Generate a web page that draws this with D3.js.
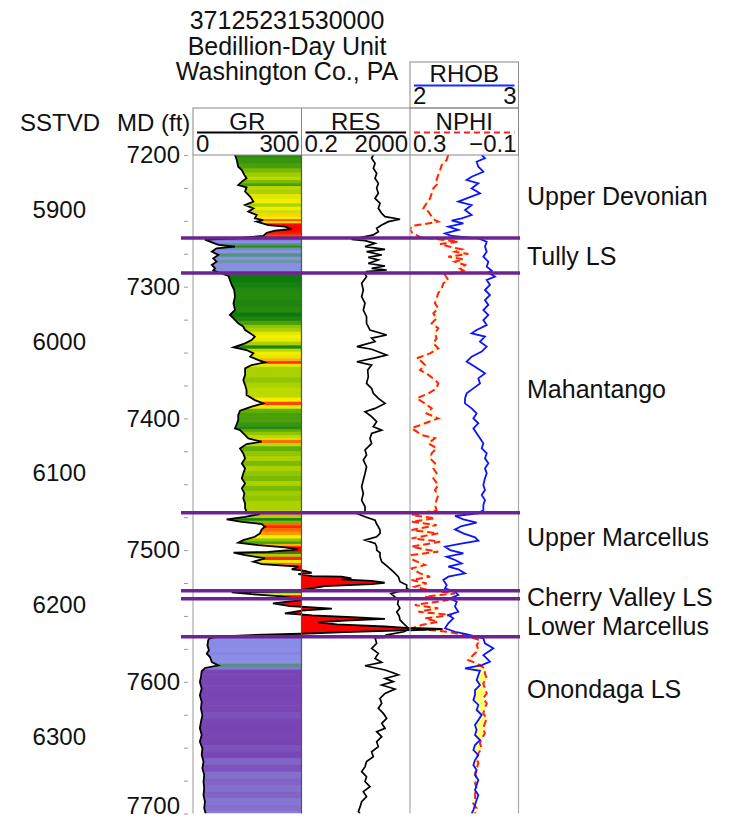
<!DOCTYPE html>
<html>
<head>
<meta charset="utf-8">
<script src="https://cdn.jsdelivr.net/npm/d3@7"></script>
<style>
  body { margin: 0; background: #fff; }
  text { font-family: "Liberation Sans", Arial, sans-serif; fill: #111; }
</style>
</head>
<body>
<svg id="chart" width="731" height="820"></svg>
<script>
// well header
const titleLines = ['37125231530000', 'Bedillion-Day Unit', 'Washington Co., PA'];

// formation tops (MD ft)
const formationNames = ['Upper Devonian', 'Tully LS', 'Mahantango', 'Upper Marcellus', 'Cherry Valley LS', 'Lower Marcellus', 'Onondaga LS'];
const formationTops = [7263.0, 7289.6, 7471.6, 7530.8, 7536.9, 7565.7];
const labelDepths = [7231, 7277, 7378, 7490, 7536, 7558, 7606];

const mdTicks = d3.range(7200, 7701, 25);
const sstvdTicks = [5900, 6000, 6100, 6200, 6300];
const kbOffset = 1341.5;

// [MD, GR api]
const grLog = [[7200,116],[7203.8,121],[7208.9,125],[7211.4,135],[7215.2,142],[7217.7,148],[7220.2,135],[7222.8,125],[7224.6,148],[7227.8,144],[7231.6,158],[7235.4,167],[7238,144],[7240.5,167],[7243,153],[7245.6,176],[7248.1,171],[7249.4,194],[7250.6,176],[7253.2,208],[7254.4,254],[7256.2,273],[7257.5,227],[7259,204],[7261.5,194],[7263.2,120],[7264.2,33],[7265.8,47],[7268.3,70],[7269.6,116],[7270.9,65],[7273.4,52],[7275.9,70],[7278.5,56],[7281,65],[7283.5,52],[7286.1,61],[7287.8,56],[7289.9,79],[7291.9,98],[7294.9,102],[7298.7,107],[7302.5,114],[7307.6,116],[7312.6,112],[7317.7,116],[7321.5,102],[7324,112],[7327.8,125],[7330.3,139],[7332.9,144],[7335.4,158],[7337.9,171],[7340.5,162],[7343,144],[7346,112],[7348.1,148],[7350.6,167],[7353.1,158],[7355.7,181],[7357.4,199],[7359.5,162],[7362,144],[7367.1,144],[7370.9,139],[7374.7,144],[7378.5,148],[7382.3,148],[7386.1,171],[7388.6,194],[7391.1,162],[7394.2,130],[7397.5,125],[7401.3,125],[7404.3,121],[7407.6,116],[7408.9,130],[7411.4,139],[7413.9,148],[7415.2,153],[7417.7,190],[7419.5,148],[7422.8,130],[7426.6,139],[7430.4,144],[7434.2,135],[7438,144],[7441.8,139],[7445.6,135],[7449.4,144],[7453.1,135],[7457,142],[7460.7,139],[7464.5,144],[7468.3,144],[7470.9,148],[7472.6,185],[7474.7,144],[7476.7,93],[7478.5,135],[7480.2,190],[7482.3,199],[7484.3,190],[7487.3,185],[7489.9,171],[7492.4,139],[7494.4,125],[7496.2,181],[7498,254],[7499.5,291],[7501.3,208],[7502,112],[7503.8,144],[7506.3,199],[7508.8,167],[7510.6,190],[7512.6,291],[7514.7,273],[7515.7,310],[7517.2,328],[7518.2,291],[7519.7,330],[7520.2,411],[7521.5,438],[7522.3,411],[7523.3,494],[7524.8,530],[7525.8,494],[7527.3,365],[7529.1,328],[7530.3,300],[7531.2,250],[7532,107],[7533.5,162],[7535,236],[7536.5,280],[7538,300],[7540.5,221],[7542.5,268],[7544.5,384],[7546,300],[7548,254],[7549.5,330],[7551,440],[7552.2,531],[7553.5,420],[7554.8,346],[7556.4,398],[7558,530],[7559.2,600],[7560,690],[7561,580],[7562.3,420],[7563.5,300],[7564.5,158],[7565.8,66],[7567,45],[7568.5,42],[7572.3,40],[7576.1,44],[7578.6,38],[7581.2,47],[7585,52],[7587.5,70],[7589.5,33],[7592,24],[7596.3,22],[7600.1,19],[7605.1,24],[7610.2,19],[7615.2,24],[7620.3,22],[7625.4,26],[7630.3,22],[7635.3,19],[7640.4,24],[7645.5,19],[7650.5,26],[7655.6,24],[7660.6,29],[7665.7,26],[7670.8,31],[7675.8,29],[7680.9,31],[7685.9,29],[7691,33],[7696.1,31],[7700,35]];

// [MD, resistivity ohm-m]
const resLog = [[7200,89],[7202.5,77],[7206.3,103],[7210.1,89],[7213.9,118],[7217.7,103],[7221.5,136],[7225.3,118],[7229.1,136],[7232.9,103],[7236.7,157],[7240.5,136],[7244.3,181],[7246.8,240],[7248.8,856],[7250.6,318],[7253.2,181],[7255.7,118],[7258.2,136],[7260.7,89],[7262.5,33],[7264,14],[7265,44],[7267.1,103],[7269.6,44],[7271.6,240],[7273.4,50],[7275.9,181],[7277.7,58],[7279.7,136],[7282.3,58],[7284.3,240],[7286.1,77],[7287.3,276],[7288.6,50],[7290.4,44],[7292.4,50],[7297.4,33],[7302.5,38],[7307.6,33],[7312.6,44],[7317.7,38],[7322.8,50],[7327.8,50],[7332.9,67],[7336.7,276],[7339,77],[7341.7,103],[7345.5,22],[7347.5,77],[7351.9,276],[7354,103],[7357,22],[7359.5,77],[7363.3,55],[7368.4,58],[7373.4,50],[7377.2,77],[7381,89],[7384.8,136],[7388.6,240],[7392.4,103],[7394.9,44],[7398.7,77],[7402.5,118],[7406.3,89],[7408.9,181],[7411.4,77],[7415.2,67],[7419,77],[7424,44],[7427.8,50],[7431.6,38],[7436.7,50],[7441.8,44],[7446.8,38],[7451.9,33],[7457,38],[7462,33],[7467.1,44],[7470.9,44],[7472.6,25],[7474.7,44],[7477.2,103],[7480.2,118],[7482.3,136],[7484.8,157],[7487.3,157],[7489.9,118],[7492.4,44],[7494.9,103],[7497.4,118],[7500,118],[7502,157],[7505,157],[7508.8,181],[7512.6,300],[7516.4,486],[7520.2,743],[7524,856],[7526.5,1507],[7529.1,1500],[7530.3,2000],[7531,900],[7533,400],[7536,600],[7538,750],[7541,700],[7544,850],[7547,650],[7550,800],[7553,850],[7555.6,1136],[7558,1507],[7560,1800],[7562,1200],[7564.5,250],[7565.5,1500],[7566.5,103],[7570.8,118],[7574.6,77],[7578.4,136],[7582.2,103],[7585.2,181],[7587.8,44],[7591,240],[7592.8,422],[7594.8,743],[7597.4,240],[7599.9,486],[7602.4,181],[7605.5,560],[7608.8,240],[7612.6,157],[7616.4,181],[7620.1,136],[7624,208],[7627.7,276],[7631.5,181],[7635.3,240],[7637.9,118],[7641.7,181],[7645.5,118],[7649.3,136],[7653.1,77],[7656.8,89],[7660.6,50],[7664.4,44],[7668.2,33],[7672,50],[7675.8,44],[7679.6,67],[7683.4,38],[7687.2,50],[7691,33],[7694.8,29],[7698.6,25],[7700,29]];

// [MD, neutron porosity v/v]
const nphiLog = [[7200,.159],[7203.8,.165],[7207.6,.183],[7211.4,.189],[7215.2,.196],[7219,.202],[7221.5,.196],[7225.3,.214],[7229.1,.220],[7232.9,.226],[7236.7,.239],[7240.5,.251],[7243,.232],[7246.8,.220],[7249.4,.208],[7250.6,.196],[7252.4,.245],[7253.9,.294],[7256.9,.300],[7259.5,.290],[7262.5,.260],[7264,.196],[7265.8,.122],[7267.6,.189],[7269.6,.153],[7271.6,.110],[7273.4,.134],[7275.2,.085],[7277.2,.159],[7279.2,.103],[7281,.134],[7283.5,.097],[7286.1,.116],[7287.8,.103],[7291.1,.171],[7294.9,.159],[7297.4,.177],[7301.2,.183],[7305,.196],[7308.8,.202],[7312.6,.208],[7316.4,.196],[7320.2,.214],[7324,.202],[7327.8,.220],[7331.6,.196],[7335.4,.208],[7339.2,.202],[7343,.214],[7346.8,.196],[7350.6,.226],[7354.4,.275],[7356.9,.257],[7359.5,.245],[7363.3,.263],[7367,.232],[7370.8,.208],[7373.4,.196],[7377.2,.202],[7381,.232],[7384.8,.275],[7388.6,.245],[7392.4,.220],[7396.2,.239],[7400,.196],[7403.7,.245],[7407.5,.294],[7410.1,.275],[7412.6,.257],[7415.1,.208],[7418.9,.232],[7422.7,.202],[7426.5,.220],[7430.3,.226],[7434.1,.208],[7437.9,.214],[7441.7,.202],[7445.5,.214],[7450.6,.196],[7454.4,.208],[7458.2,.196],[7462,.202],[7465.8,.208],[7469.6,.202],[7473.4,.294],[7475.9,.208],[7478.4,.294],[7481,.202],[7484.8,.294],[7487.3,.196],[7491.1,.294],[7493.6,.189],[7497.4,.294],[7500,.232],[7501.2,.196],[7503.7,.294],[7507.5,.288],[7511.3,.245],[7513.9,.294],[7517.7,.263],[7520.2,.226],[7522.7,.294],[7525.3,.239],[7527.8,.282],[7530.3,.232],[7532.9,.134],[7535.4,.245],[7537.9,.159],[7541.7,.282],[7544.2,.196],[7546.8,.269],[7549.3,.146],[7551.8,.245],[7554.4,.196],[7556.9,.257],[7559.4,.294],[7562,.159],[7564.5,.103],[7568.3,.042],[7572.1,.054],[7575.9,.048],[7579.7,.067],[7583.5,.085],[7586,.054],[7589.8,.024],[7593.6,.024],[7597.4,.017],[7601.2,.030],[7605,.024],[7608.8,.017],[7612.6,.030],[7616.4,.017],[7620.2,.024],[7624,.030],[7627.8,.017],[7631.6,.024],[7635.4,.030],[7639.2,.024],[7643,.036],[7646.7,.042],[7650.5,.036],[7654.3,.048],[7658.1,.054],[7661.9,.048],[7665.7,.054],[7669.5,.060],[7673.3,.054],[7677.1,.060],[7680.9,.054],[7684.7,.060],[7688.5,.060],[7692.3,.067],[7696.1,.054],[7700,.060]];

// [MD, bulk density g/cc]
const rhobLog = [[7200,2.661],[7202.5,2.691],[7205.1,2.614],[7208.9,2.630],[7212.7,2.676],[7216.5,2.568],[7219,2.522],[7221.5,2.630],[7225.3,2.568],[7229.1,2.645],[7232.9,2.522],[7235.4,2.445],[7238,2.568],[7241.8,2.507],[7245.6,2.568],[7248.1,2.476],[7249.9,2.384],[7251.9,2.492],[7254.4,2.353],[7256.9,2.445],[7259.5,2.323],[7261.5,2.384],[7263.3,2.630],[7265.8,2.707],[7269.6,2.691],[7273.4,2.707],[7277.2,2.676],[7281,2.722],[7284.8,2.707],[7287.8,2.753],[7289.3,2.722],[7292.4,2.783],[7294.9,2.707],[7298.7,2.737],[7302.5,2.691],[7306.3,2.737],[7310.1,2.691],[7313.9,2.722],[7317.7,2.676],[7321.5,2.722],[7325.3,2.676],[7329.1,2.707],[7332.9,2.614],[7335.4,2.568],[7337.9,2.691],[7341.7,2.645],[7345.5,2.707],[7349.3,2.661],[7353.1,2.568],[7356.9,2.522],[7360.7,2.599],[7363.3,2.645],[7365.8,2.691],[7369.6,2.630],[7373.4,2.645],[7377.2,2.584],[7381,2.522],[7384.8,2.507],[7388.6,2.507],[7392.4,2.568],[7396.2,2.614],[7400,2.584],[7403.7,2.630],[7407.5,2.584],[7411.3,2.614],[7415.1,2.645],[7418.9,2.676],[7422.7,2.661],[7426.5,2.707],[7430.3,2.691],[7434.1,2.722],[7437.9,2.691],[7441.7,2.707],[7445.5,2.691],[7450.6,2.676],[7454.4,2.691],[7458.2,2.661],[7462,2.691],[7465.8,2.676],[7469.6,2.676],[7472.1,2.630],[7474.1,2.415],[7476.7,2.492],[7479.2,2.614],[7481.7,2.476],[7484.3,2.415],[7487.3,2.492],[7490.3,2.599],[7492.9,2.630],[7495.4,2.445],[7497.4,2.323],[7500,2.369],[7502.5,2.492],[7505,2.338],[7507.5,2.415],[7510.1,2.476],[7512.6,2.353],[7514.6,2.445],[7517.7,2.507],[7520.2,2.353],[7522.7,2.307],[7526.5,2.338],[7529.1,2.323],[7531.6,2.415],[7534.1,2.445],[7536.7,2.369],[7539.2,2.430],[7543,2.415],[7546.8,2.445],[7549.3,2.353],[7551.8,2.399],[7555.6,2.353],[7559.4,2.323],[7562,2.415],[7563.7,2.507],[7567,2.676],[7570.8,2.691],[7574.6,2.768],[7577.1,2.722],[7579.7,2.676],[7582.2,2.707],[7584.7,2.737],[7587.3,2.661],[7589.8,2.507],[7591.6,2.645],[7594.9,2.630],[7598.7,2.614],[7602.5,2.645],[7606.3,2.599],[7610.1,2.599],[7613.9,2.584],[7617.6,2.630],[7621.4,2.614],[7625.2,2.661],[7629,2.630],[7632.8,2.599],[7636.6,2.614],[7640.4,2.599],[7644.2,2.645],[7648,2.599],[7651.8,2.584],[7655.6,2.630],[7659.4,2.599],[7663.2,2.584],[7667,2.614],[7670.8,2.599],[7674.6,2.630],[7678.4,2.614],[7682.2,2.599],[7686,2.630],[7689.8,2.614],[7693.6,2.599],[7697.4,2.584],[7700,2.568]];

// GR colour stops
const grStops = [0, 24, 31, 40, 60, 67, 80, 100, 118, 132, 145, 158, 172, 185, 196, 210];
const grColors = ['#7640b0','#7a46b6','#8470cc','#8a8ae8','#8a92e0','#5a9890','#2e8a30','#0a780a','#2a8c10','#6ab400','#b0d400','#e4e800','#f8f000','#ff9800','#ff3000','#ff0000'];

const svg = d3.select('#chart');
const trackTop = 155, trackBottom = 813.5;
const edges = [193, 301.5, 410, 518.5];

const y = d3.scaleLinear().domain([7200, 7700]).range([trackTop, trackBottom]);
const ySS = d3.scaleLinear().domain([7200 - kbOffset, 7700 - kbOffset]).range([trackTop, trackBottom]);
const xGR = d3.scaleLinear().domain([0, 300]).range([edges[0], edges[1]]);
const xGRwrap = d3.scaleLinear().domain([300, 600]).range([edges[1], edges[2]]);
const xGRwrap2 = d3.scaleLinear().domain([600, 900]).range([edges[2], edges[3]]);
const xRES = d3.scaleLog().domain([0.2, 2000]).range([edges[1], edges[2]]);
const xNPHI = d3.scaleLinear().domain([0.3, -0.1]).range([edges[2], edges[3]]);
const xRHOB = d3.scaleLinear().domain([2, 3]).range([edges[2], edges[3]]);
const grColor = d3.scaleLinear().domain(grStops).range(grColors).clamp(true);

const defs = svg.append('defs');
['gr', 'res', 'np'].forEach((id, i) => {
    defs.append('clipPath').attr('id', 'clip-' + id)
        .append('rect')
        .attr('x', edges[i]).attr('y', trackTop)
        .attr('width', edges[i + 1] - edges[i]).attr('height', trackBottom - trackTop);
});

defs.append('clipPath').attr('id', 'clip-grfill')
    .append('path')
    .attr('d', d3.area().y(d => y(d[0])).x0(d => xGR(d[1])).x1(edges[1])(grLog));

defs.append('clipPath').attr('id', 'clip-nphi')
    .append('path')
    .attr('d', d3.area().y(d => y(d[0])).x0(edges[2] - 20).x1(d => xNPHI(d[1]))(nphiLog));

// ---- GR track ----
const grTrack = svg.append('g').attr('clip-path', 'url(#clip-gr)');
const bands = grLog.map((d, i) => {
    const d0 = i === 0 ? d[0] : (grLog[i - 1][0] + d[0]) / 2;
    const d1 = i === grLog.length - 1 ? d[0] : (d[0] + grLog[i + 1][0]) / 2;
    return {d0, d1, gr: d[1]};
});
grTrack.append('g').attr('clip-path', 'url(#clip-grfill)')
    .selectAll('rect')
    .data(bands)
    .enter()
    .append('rect')
    .attr('x', edges[0])
    .attr('width', edges[1] - edges[0])
    .attr('y', b => y(b.d0))
    .attr('height', b => y(b.d1) - y(b.d0) + 0.6)
    .attr('fill', b => grColor(b.gr));

grTrack.append('path')
    .attr('d', d3.line().x(d => xGR(d[1])).y(d => y(d[0]))(grLog))
    .attr('fill', 'none').attr('stroke', '#000').attr('stroke-width', 1.8);

// ---- RES track (with GR wrap) ----
const resTrack = svg.append('g').attr('clip-path', 'url(#clip-res)');
resTrack.append('path')
    .attr('d', d3.area().y(d => y(d[0])).x0(edges[1]).x1(d => xGRwrap(d[1]))(grLog))
    .attr('fill', '#ff0000');
resTrack.append('path')
    .attr('d', d3.line().x(d => xGRwrap(d[1])).y(d => y(d[0]))(grLog))
    .attr('fill', 'none').attr('stroke', '#000').attr('stroke-width', 1.8);
resTrack.append('path')
    .attr('d', d3.line().x(d => xRES(d[1])).y(d => y(d[0]))(resLog))
    .attr('fill', 'none').attr('stroke', '#000').attr('stroke-width', 1.7);

// ---- NPHI / RHOB track ----
const npTrack = svg.append('g').attr('clip-path', 'url(#clip-np)');
npTrack.append('g').attr('clip-path', 'url(#clip-nphi)')
    .append('path')
    .attr('d', d3.area().y(d => y(d[0])).x0(d => xRHOB(d[1])).x1(edges[3] + 20)(rhobLog))
    .attr('fill', '#ffff70');
npTrack.append('path')
    .attr('d', d3.line().x(d => xNPHI(d[1])).y(d => y(d[0]))(nphiLog))
    .attr('fill', 'none').attr('stroke', '#fff6b8').attr('stroke-width', 2.6);
npTrack.append('path')
    .attr('d', d3.line().x(d => xNPHI(d[1])).y(d => y(d[0]))(nphiLog))
    .attr('fill', 'none').attr('stroke', '#ff2020').attr('stroke-width', 2)
    .attr('stroke-dasharray', '7,4');
npTrack.append('path')
    .attr('d', d3.line().x(d => xRHOB(d[1])).y(d => y(d[0]))(rhobLog))
    .attr('fill', 'none').attr('stroke', '#0a14ff').attr('stroke-width', 1.8);
npTrack.append('path')
    .attr('d', d3.line().x(d => xGRwrap2(d[1])).y(d => y(d[0]))(grLog))
    .attr('fill', 'none').attr('stroke', '#000').attr('stroke-width', 2);

// track borders
svg.selectAll('.border')
    .data(edges)
    .enter()
    .append('line')
    .attr('x1', d => d).attr('x2', d => d)
    .attr('y1', trackTop).attr('y2', trackBottom)
    .attr('stroke', (d, i) => i === 1 ? '#555' : '#aaa')
    .attr('stroke-width', 1.2);

// formation tops
svg.selectAll('.top')
    .data(formationTops)
    .enter()
    .append('line')
    .attr('x1', 181).attr('x2', 520)
    .attr('y1', d => y(d)).attr('y2', d => y(d))
    .attr('stroke', '#6d2391').attr('stroke-width', 3.5);

svg.selectAll('.fmLabel')
    .data(formationNames)
    .enter()
    .append('text')
    .attr('x', 527)
    .attr('y', (d, i) => y(labelDepths[i]))
    .attr('dy', '0.35em')
    .style('font-size', '25px')
    .text(d => d);

// depth axes
const mdAxis = svg.append('g')
    .attr('transform', 'translate(188,0)')
    .call(d3.axisLeft(y).tickValues(mdTicks).tickSize(4).tickPadding(4)
        .tickFormat(d => d % 100 === 0 ? d : ''));
mdAxis.select('.domain').remove();
mdAxis.selectAll('line').attr('stroke', '#999');
mdAxis.selectAll('text').style('font-size', '24px').attr('fill', '#111').attr('font-family', null)
    .attr('y', d => d === 7700 ? -8 : 0);

const ssAxis = svg.append('g')
    .attr('transform', 'translate(86,0)')
    .call(d3.axisLeft(ySS).tickValues(sstvdTicks).tickSize(0).tickPadding(0).tickFormat(d3.format('d')));
ssAxis.select('.domain').remove();
ssAxis.selectAll('text').style('font-size', '24px').attr('fill', '#111').attr('font-family', null);

// title
svg.selectAll('.title')
    .data(titleLines)
    .enter()
    .append('text')
    .attr('x', 287)
    .attr('y', (d, i) => 29 + i * 25.5)
    .attr('text-anchor', 'middle')
    .style('font-size', '25px')
    .text(d => d);

svg.append('text').attr('x', 20).attr('y', 131).style('font-size', '24px').text('SSTVD');
svg.append('text').attr('x', 117).attr('y', 131).style('font-size', '24px').text('MD (ft)');

// header boxes
svg.append('rect').attr('x', edges[2]).attr('y', 62).attr('width', edges[3] - edges[2]).attr('height', 46)
    .attr('fill', 'none').attr('stroke', '#888');
svg.append('rect').attr('x', edges[0]).attr('y', 108).attr('width', edges[3] - edges[0]).attr('height', trackTop - 108)
    .attr('fill', 'none').attr('stroke', '#888');
[edges[1], edges[2]].forEach(x => svg.append('line').attr('x1', x).attr('x2', x).attr('y1', 108).attr('y2', trackTop).attr('stroke', '#888'));

const headers = [
    {name: 'GR', lo: '0', hi: '300', color: '#000', dash: null, left: edges[0], nameY: 130, lineY: 132.5, scaleY: 152},
    {name: 'RES', lo: '0.2', hi: '2000', color: '#000', dash: null, left: edges[1], nameY: 130, lineY: 132.5, scaleY: 152},
    {name: 'NPHI', lo: '0.3', hi: '\u22120.1', color: '#ff2020', dash: '6,4', left: edges[2], nameY: 130, lineY: 132.5, scaleY: 152},
    {name: 'RHOB', lo: '2', hi: '3', color: '#1a2cff', dash: null, left: edges[2], nameY: 82, lineY: 85.5, scaleY: 104}
];
headers.forEach(h => {
    const w = 108.5;
    svg.append('text').attr('x', h.left + w / 2).attr('y', h.nameY).attr('text-anchor', 'middle')
        .style('font-size', '24px').text(h.name);
    svg.append('line').attr('x1', h.left + 4).attr('x2', h.left + w - 4)
        .attr('y1', h.lineY).attr('y2', h.lineY)
        .attr('stroke', h.color).attr('stroke-width', 2)
        .attr('stroke-dasharray', h.dash);
    svg.append('text').attr('x', h.left + 3).attr('y', h.scaleY).style('font-size', '24px').text(h.lo);
    svg.append('text').attr('x', h.left + w - 2).attr('y', h.scaleY).attr('text-anchor', 'end')
        .style('font-size', '24px').text(h.hi);
});
</script>
</body>
</html>
